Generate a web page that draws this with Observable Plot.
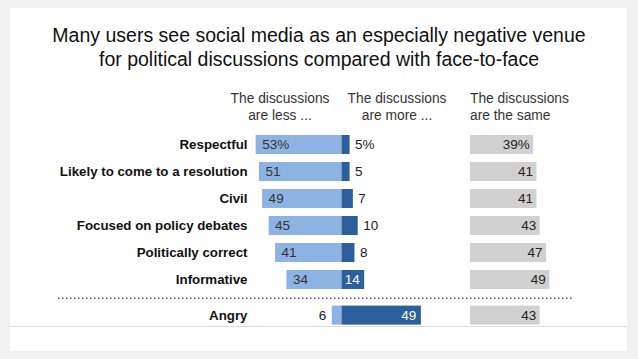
<!DOCTYPE html>
<html>
<head>
<meta charset="utf-8">
<script src="https://cdn.jsdelivr.net/npm/d3@7"></script>
<script src="https://cdn.jsdelivr.net/npm/@observablehq/plot@0.6"></script>
<style>
  html, body { margin: 0; padding: 0; }
  body { width: 638px; height: 359px; background: #f0f0f0; position: relative; overflow: hidden; font-family: "Liberation Sans", Arial, sans-serif; }
  #panel { position: absolute; left: 10px; top: 8px; width: 617px; height: 343px; background: #ffffff; }
  #baseline { position: absolute; left: 10px; top: 326px; width: 617px; height: 1px; background: #dcdcdc; }
  #title { position: absolute; left: 0; top: 23px; width: 638px; text-align: center; font-size: 19.5px; line-height: 24px; color: #111; }
  .hdr { position: absolute; font-size: 13.8px; line-height: 17px; color: #333; }
  #chart { position: absolute; left: 0; top: 0; }
</style>
</head>
<body>
<div id="panel"></div>
<div id="baseline"></div>
<div id="title">Many users see social media as an especially negative venue<br>for political discussions compared with face-to-face</div>
<div class="hdr" style="left:210px;top:90px;width:140px;text-align:center">The discussions<br>are less ...</div>
<div class="hdr" style="left:327px;top:90px;width:140px;text-align:center">The discussions<br>are more ...</div>
<div class="hdr" style="left:470px;top:90px;width:140px;text-align:left">The discussions<br>are the same</div>
<div id="chart"></div>
<script>
const categories = ["Respectful", "Likely to come to a resolution", "Civil", "Focused on policy debates", "Politically correct", "Informative", "Angry"];
const lessValues = [53, 51, 49, 45, 41, 34, 6];
const moreValues = [5, 5, 7, 10, 8, 14, 49];
const sameValues = [39, 41, 41, 43, 47, 49, 43];

const rows = categories.map((c, i) => ({
  cat: c, less: lessValues[i], more: moreValues[i], same: sameValues[i],
  pct: i === 0 ? "%" : ""
}));
const mainRows = rows.slice(0, 6);
const angryRows = rows.slice(6);

const LIGHT = "#8db3e2", DARK = "#2c5f9c", GRAY = "#d1d1d1";
const numFont = { fontSize: 13.5, fontFamily: "Liberation Sans, Arial, sans-serif" };
const GRAY_SHIFT = 128.5;

function group(data, dy) {
  return [
    Plot.barX(data, { y: "cat", x1: d => -d.less, x2: 0, fill: LIGHT, dy }),
    Plot.barX(data, { y: "cat", x1: 0, x2: "more", fill: DARK, dy }),
    Plot.barX(data, { y: "cat", x1: 0, x2: "same", fill: GRAY, dx: GRAY_SHIFT, dy }),
    // less labels
    Plot.text(data.filter(d => d.less >= 12), { y: "cat", x: d => -d.less, text: d => d.less + d.pct, textAnchor: "start", dx: 6, dy, fill: "#333", ...numFont }),
    Plot.text(data.filter(d => d.less < 12), { y: "cat", x: d => -d.less, text: d => d.less + d.pct, textAnchor: "end", dx: -6, dy, fill: "#222", ...numFont }),
    // more labels
    Plot.text(data.filter(d => d.more >= 12), { y: "cat", x: "more", text: d => d.more + d.pct, textAnchor: "end", dx: -5, dy, fill: "#fff", ...numFont }),
    Plot.text(data.filter(d => d.more < 12), { y: "cat", x: "more", text: d => d.more + d.pct, textAnchor: "start", dx: 5, dy, fill: "#222", ...numFont }),
    // same labels
    Plot.text(data, { y: "cat", x: "same", text: d => d.same + d.pct, textAnchor: "end", dx: GRAY_SHIFT - 4, dy, fill: "#222", ...numFont }),
    // category labels
    Plot.text(data, { y: "cat", text: "cat", frameAnchor: "left", textAnchor: "end", dx: 189, dy, fill: "#111", fontWeight: "bold", fontSize: 13.3, fontFamily: "Liberation Sans, Arial, sans-serif" })
  ];
}

const chart = Plot.plot({
  width: 638,
  height: 359,
  marginLeft: 58,
  marginRight: 65,
  marginTop: 0,
  marginBottom: 0,
  style: { background: "transparent", overflow: "visible" },
  x: { domain: [-100, 100], range: [179.5, 503.5], axis: null },
  y: { domain: categories, range: [126, 324], padding: 0.3, axis: null },
  marks: [
    ...group(mainRows, 0),
    ...group(angryRows, 8.6),
    Plot.ruleY(["Angry"], { y: d => d, dy: -8.7, stroke: "#555", strokeWidth: 1.5, strokeDasharray: "1.5,2.5" })
  ]
});
document.getElementById("chart").appendChild(chart);
</script>
</body>
</html>
